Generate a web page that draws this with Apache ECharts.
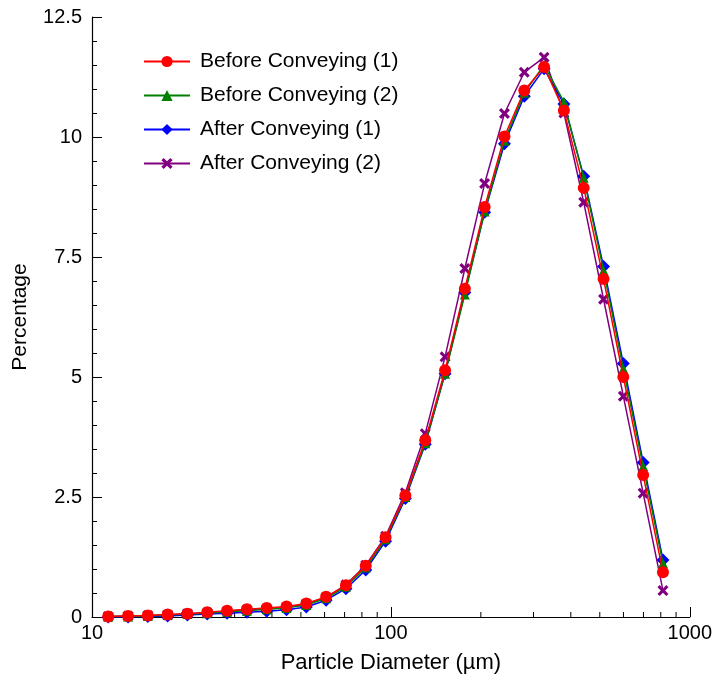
<!DOCTYPE html>
<html>
<head>
<meta charset="utf-8">
<script src="https://cdn.jsdelivr.net/npm/echarts@6/dist/echarts.min.js"></script>
<style>
html,body{margin:0;padding:0;background:#fff;}
#c{width:715px;height:681px;}
</style>
</head>
<body>
<div id="c"></div>
<script>
// Particle diameters (µm)
var diameters = [11.33, 13.20, 15.37, 17.91, 20.86, 24.30, 28.31, 32.98, 38.41, 44.75,
  52.13, 60.72, 70.74, 82.40, 95.99, 111.8, 130.3, 151.8, 176.8, 205.9,
  239.9, 279.5, 325.6, 379.3, 441.8, 514.7, 599.5, 698.4, 813.6];

var before1 = [0.01, 0.02, 0.03, 0.05, 0.07, 0.10, 0.13, 0.16, 0.19, 0.22,
  0.28, 0.42, 0.66, 1.07, 1.66, 2.53, 3.68, 5.14, 6.84, 8.54,
  10.01, 10.97, 11.46, 10.55, 8.94, 7.04, 5.00, 2.96, 0.93];

var before2 = [0.01, 0.01, 0.02, 0.04, 0.06, 0.08, 0.11, 0.13, 0.16, 0.19,
  0.25, 0.39, 0.63, 1.03, 1.62, 2.50, 3.62, 5.07, 6.72, 8.45,
  9.92, 10.92, 11.50, 10.73, 9.15, 7.22, 5.17, 3.14, 1.12];

var after1 = [0.00, 0.00, 0.01, 0.02, 0.04, 0.06, 0.08, 0.10, 0.12, 0.15,
  0.21, 0.35, 0.59, 0.98, 1.58, 2.47, 3.60, 5.07, 6.76, 8.43,
  9.86, 10.85, 11.42, 10.69, 9.18, 7.30, 5.28, 3.22, 1.19];

var after2 = [0.01, 0.02, 0.03, 0.04, 0.07, 0.09, 0.12, 0.15, 0.17, 0.20,
  0.27, 0.41, 0.67, 1.08, 1.68, 2.59, 3.82, 5.42, 7.26, 9.03,
  10.49, 11.35, 11.66, 10.50, 8.64, 6.62, 4.60, 2.58, 0.55];

var xMinorTicks = [20, 30, 40, 50, 60, 70, 80, 90, 200, 300, 400, 500, 600, 700, 800, 900];

var seriesNames = ['Before Conveying (1)', 'Before Conveying (2)', 'After Conveying (1)', 'After Conveying (2)'];

function pairs(ys) {
  return diameters.map(function (d, i) { return [d, ys[i]]; });
}

var FONT = '"Liberation Sans", Arial, sans-serif';
var xSymbol = 'path://M2,0 L5,3 L8,0 L10,2 L7,5 L10,8 L8,10 L5,7 L2,10 L0,8 L3,5 L0,2 Z';

function lineSeries(name, ys, color, symbol, size, z) {
  return {
    name: name,
    type: 'line',
    data: pairs(ys),
    symbol: symbol,
    symbolSize: size,
    showAllSymbol: true,
    z: z,
    lineStyle: { color: color, width: 1.5 },
    itemStyle: { color: color, borderWidth: 0 },
    emphasis: { disabled: true }
  };
}

var chart = echarts.init(document.getElementById('c'), null, { renderer: 'canvas' });
chart.setOption({
  animation: false,
  backgroundColor: '#fff',
  grid: { left: 92, right: 22, top: 17, bottom: 64, containLabel: false },
  legend: {
    data: seriesNames,
    orient: 'vertical',
    left: 138,
    top: 46,
    itemWidth: 46,
    itemHeight: 14,
    itemGap: 13,
    textStyle: { fontFamily: FONT, fontSize: 21, color: '#000', padding: [0, 0, 0, 5] },
    selectedMode: false
  },
  xAxis: {
    type: 'log',
    logBase: 10,
    min: 10,
    max: 1000,
    name: 'Particle Diameter (µm)',
    nameLocation: 'middle',
    nameGap: 35,
    nameTextStyle: { fontFamily: FONT, fontSize: 22, color: '#000' },
    axisLine: { lineStyle: { color: '#000', width: 1.2 } },
    axisTick: { inside: true, length: 10, lineStyle: { color: '#000', width: 1 } },
    axisLabel: {
      fontFamily: FONT, fontSize: 20, color: '#000', margin: 6,
      formatter: function (v) { return String(Math.round(v)); }
    },
    splitLine: { show: false }
  },
  yAxis: {
    type: 'value',
    min: 0,
    max: 12.5,
    interval: 2.5,
    name: 'Percentage',
    nameLocation: 'middle',
    nameGap: 61,
    nameTextStyle: { fontFamily: FONT, fontSize: 21, color: '#000' },
    axisLine: { show: true, lineStyle: { color: '#000', width: 1.2 } },
    axisTick: { show: true, inside: true, length: 10, lineStyle: { color: '#000', width: 1 } },
    minorTick: { show: true, splitNumber: 5, length: 5, lineStyle: { color: '#000', width: 1 } },
    axisLabel: { fontFamily: FONT, fontSize: 20, color: '#000', margin: 10 },
    splitLine: { show: false }
  },
  series: [
    {
      type: 'custom',
      name: 'minorTicks',
      silent: true,
      clip: false,
      z: 1,
      data: xMinorTicks.map(function (v) { return [v, 0]; }),
      renderItem: function (params, api) {
        var p = api.coord([api.value(0), 0]);
        return {
          type: 'line',
          shape: { x1: p[0], y1: p[1], x2: p[0], y2: p[1] - 5 },
          style: { stroke: '#000', lineWidth: 1 }
        };
      }
    },
    lineSeries(seriesNames[3], after2, '#800080', xSymbol, 11, 2),
    lineSeries(seriesNames[2], after1, '#0000ff', 'diamond', 13, 3),
    lineSeries(seriesNames[1], before2, '#008000', 'triangle', 10, 4),
    lineSeries(seriesNames[0], before1, '#ff0000', 'circle', 12, 5)
  ]
});
</script>
</body>
</html>
